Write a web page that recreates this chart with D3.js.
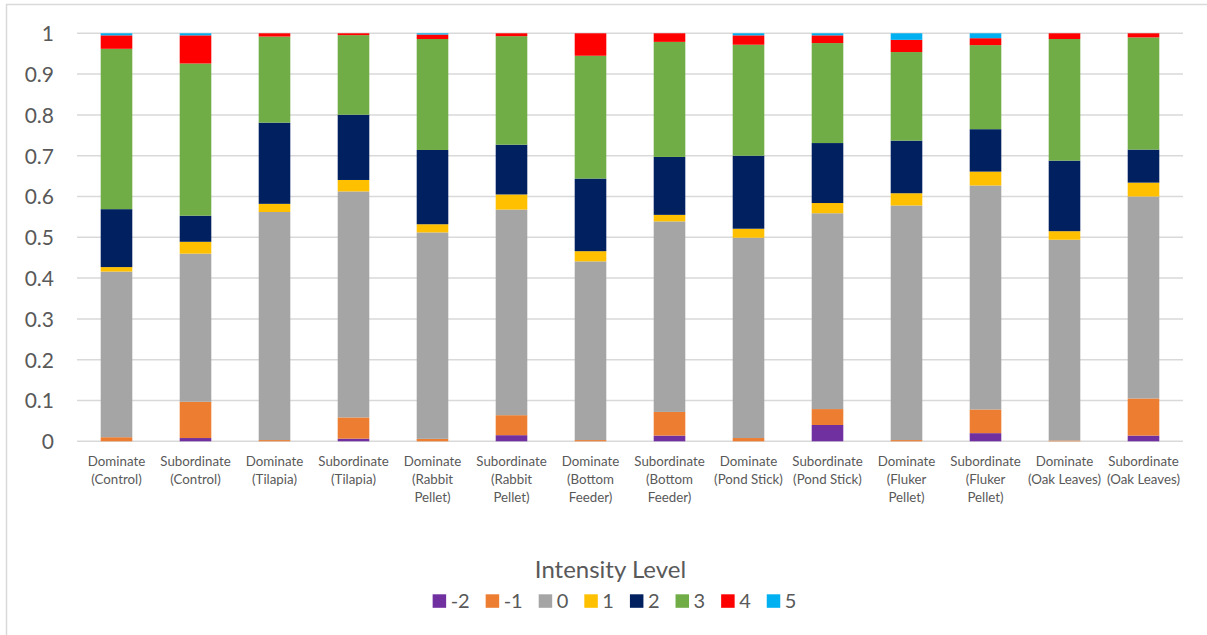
<!DOCTYPE html>
<html>
<head>
<meta charset="utf-8">
<script src="https://cdn.jsdelivr.net/npm/d3@7"></script>
<style>
  html, body { margin: 0; padding: 0; background: #fff; }
  svg { display: block; }
  text { font-family: Lato, "Liberation Sans", sans-serif; fill: #595959; }
</style>
</head>
<body>
<svg id="chart" width="1207" height="635"></svg>
<script>
// ---- Data ----
const categories = [
  ["Dominate", "(Control)"],
  ["Subordinate", "(Control)"],
  ["Dominate", "(Tilapia)"],
  ["Subordinate", "(Tilapia)"],
  ["Dominate", "(Rabbit", "Pellet)"],
  ["Subordinate", "(Rabbit", "Pellet)"],
  ["Dominate", "(Bottom", "Feeder)"],
  ["Subordinate", "(Bottom", "Feeder)"],
  ["Dominate", "(Pond Stick)"],
  ["Subordinate", "(Pond Stick)"],
  ["Dominate", "(Fluker", "Pellet)"],
  ["Subordinate", "(Fluker", "Pellet)"],
  ["Dominate", "(Oak Leaves)"],
  ["Subordinate", "(Oak Leaves)"]
];
const levelNames = ["-2", "-1", "0", "1", "2", "3", "4", "5"];
const levelColors = ["#7030A0", "#ED7D31", "#A5A5A5", "#FFC000", "#002060", "#70AD47", "#FF0000", "#00B0F0"];

const levelNeg2 = [0, 0.008, 0, 0.0065, 0, 0.015, 0, 0.014, 0, 0.040, 0, 0.020, 0, 0.014];
const levelNeg1 = [0.010, 0.089, 0.003, 0.052, 0.006, 0.049, 0.003, 0.058, 0.008, 0.039, 0.003, 0.058, 0.002, 0.091];
const level0    = [0.406, 0.363, 0.559, 0.554, 0.506, 0.504, 0.438, 0.467, 0.491, 0.480, 0.575, 0.549, 0.492, 0.495];
const level1    = [0.011, 0.029, 0.020, 0.028, 0.020, 0.037, 0.025, 0.016, 0.022, 0.025, 0.030, 0.034, 0.021, 0.034];
const level2    = [0.142, 0.064, 0.199, 0.160, 0.182, 0.122, 0.178, 0.142, 0.179, 0.147, 0.129, 0.104, 0.173, 0.081];
const level3    = [0.393, 0.373, 0.211, 0.195, 0.272, 0.266, 0.301, 0.282, 0.272, 0.245, 0.217, 0.206, 0.298, 0.275];
const level4    = [0.033, 0.069, 0.008, 0.0045, 0.011, 0.007, 0.055, 0.021, 0.023, 0.019, 0.030, 0.017, 0.014, 0.010];
const level5    = [0.005, 0.005, 0, 0, 0.003, 0, 0, 0, 0.005, 0.005, 0.016, 0.012, 0, 0];

const yTicks = [0, 0.1, 0.2, 0.3, 0.4, 0.5, 0.6, 0.7, 0.8, 0.9, 1];
const legendTitle = "Intensity Level";

// ---- Build table ----
const seriesArrays = [levelNeg2, levelNeg1, level0, level1, level2, level3, level4, level5];
const table = categories.map((c, i) => {
  const row = { idx: i };
  levelNames.forEach((k, j) => { row[k] = seriesArrays[j][i]; });
  return row;
});
const stack = d3.stack().keys(levelNames)(table);

// ---- Layout ----
const svg = d3.select("#chart");
const plotLeft = 77, plotRight = 1183, plotTop = 33.3, plotBottom = 441.3;

const x = d3.scaleBand()
  .domain(d3.range(categories.length))
  .range([plotLeft, plotRight])
  .paddingInner(0.6)
  .paddingOuter(0.3);
const y = d3.scaleLinear().domain([0, 1]).range([plotBottom, plotTop]);
const color = d3.scaleOrdinal().domain(levelNames).range(levelColors);

// chart frame (partially visible)
svg.append("path")
  .attr("d", "M6.5,640 L6.5,4.5 L1215,4.5")
  .attr("fill", "none")
  .attr("stroke", "#d9d9d9")
  .attr("stroke-width", 1.5);

// gridlines
svg.append("g")
  .selectAll("line")
  .data(yTicks)
  .join("line")
  .attr("x1", plotLeft).attr("x2", plotRight)
  .attr("y1", d => y(d)).attr("y2", d => y(d))
  .attr("stroke", "#d9d9d9")
  .attr("stroke-width", 1.5);

// y axis labels
const yAxis = d3.axisLeft(y).tickValues(yTicks).tickFormat(d => d3.format("")(+d.toFixed(1))).tickSize(0).tickPadding(0);
const yg = svg.append("g").attr("transform", "translate(54,0)").call(yAxis);
yg.select(".domain").remove();
yg.selectAll("text")
  .attr("font-family", "Lato, 'Liberation Sans', sans-serif")
  .attr("font-size", 21)
  .attr("fill", "#595959")
  .attr("dy", "0.35em");

// bars
svg.append("g")
  .selectAll("g")
  .data(stack)
  .join("g")
  .attr("fill", d => color(d.key))
  .selectAll("rect")
  .data(d => d)
  .join("rect")
  .attr("x", (d, i) => x(i))
  .attr("width", x.bandwidth())
  .attr("y", d => y(d[1]))
  .attr("height", d => Math.max(0, y(d[0]) - y(d[1])));

// x axis category labels
const xg = svg.append("g");
categories.forEach((lines, i) => {
  const t = xg.append("text")
    .attr("text-anchor", "middle")
    .attr("font-size", 13.3)
    .attr("x", x(i) + x.bandwidth() / 2)
    .attr("y", 465.5);
  lines.forEach((ln, k) => {
    t.append("tspan")
      .attr("x", x(i) + x.bandwidth() / 2)
      .attr("dy", k === 0 ? 0 : 18.3)
      .text(ln);
  });
});

// legend title
svg.append("text")
  .attr("x", 610.5)
  .attr("y", 577.5)
  .attr("text-anchor", "middle")
  .attr("font-size", 24)
  .text(legendTitle);

// legend items
const lg = svg.append("g");
const sq = 13.5, gapSq = 4.5, gapItem = 16;
const items = levelNames.map((n, i) => {
  const g = lg.append("g");
  g.append("rect").attr("width", sq).attr("height", sq).attr("y", 594.3).attr("fill", color(n));
  const t = g.append("text").attr("x", sq + gapSq).attr("y", 607.8).attr("font-size", 20).text(n);
  const w = sq + gapSq + t.node().getComputedTextLength();
  return { g, w };
});
let total = d3.sum(items, d => d.w) + gapItem * (items.length - 1);
let cx = 614.5 - total / 2;
items.forEach(it => {
  it.g.attr("transform", `translate(${cx},0)`);
  cx += it.w + gapItem;
});
</script>
</body>
</html>
